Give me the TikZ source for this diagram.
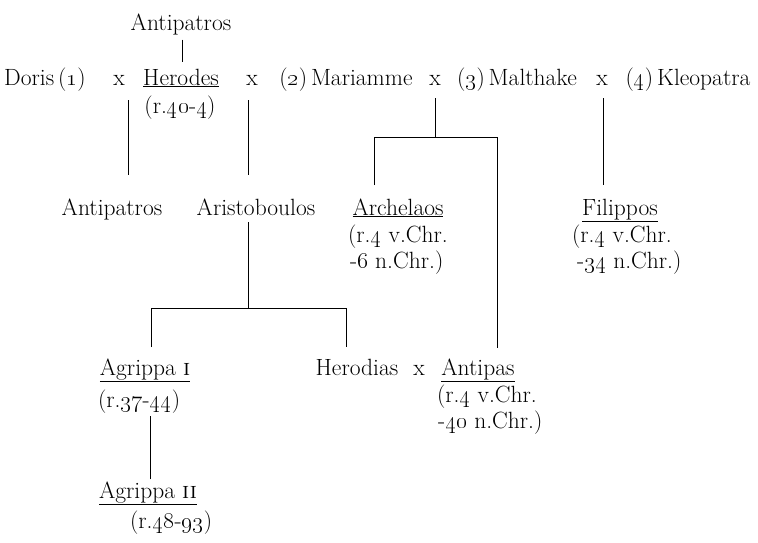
\documentclass[tikz,border=0pt]{standalone}
\usepackage{fix-cm}
\newcommand{\osn}[1]{\oldstylenums{#1}}
\begin{document}
\begin{tikzpicture}[x=1pt,y=-1pt,inner sep=0pt,outer sep=0pt,line width=0.9pt,
person/.style={anchor=base,inner sep=0pt,font=\fontsize{23.5}{28}\selectfont},
reign/.style={person,anchor=base west}]
\useasboundingbox (0,0) rectangle (758,542);
% first generation
\node[person] (antipA) at (181,30) {Antipatros};
% Herodes and his wives
\node[person] (doris) at (45,85) {Doris\,(\osn{1})};
\node[person] (mx1) at (119,85) {x};
\node[person] (herodes) at (181,85) {\underline{Herodes}};
\node[person] (herodesR) at (180,113) {(r.\osn{40}-\osn{4})};
\node[person] (mx2) at (252,85) {x};
\node[person] (mariamme) at (346,85) {(\osn{2})\,Mariamme};
\node[person] (mx3) at (435,85) {x};
\node[person] (malthake) at (517,85) {(\osn{3})\,Malthake};
\node[person] (mx4) at (602,85) {x};
\node[person] (kleopatra) at (688,85) {(\osn{4})\,Kleopatra};
% sons
\node[person] (antipB) at (112,215) {Antipatros};
\node[person] (aristo) at (256,215) {Aristoboulos};
\node[person] (archelaos) at (398,215) {\underline{Archelaos}};
\node[reign] (archelaosR1) at (348,242) {(r.\osn{4} v.Chr.};
\node[reign] (archelaosR2) at (350,268) {-\osn{6} n.Chr.)};
\node[person] (filippos) at (620,215) {\underline{Filippos}};
\node[reign] (filipposR1) at (572,242) {(r.\osn{4} v.Chr.};
\node[reign] (filipposR2) at (577,268) {-\osn{34} n.Chr.)};
% grandchildren
\node[person] (agrippa1) at (145,375) {\underline{Agrippa \textsc{i}}};
\node[reign] (agrippa1R) at (98,407) {(r.\osn{37}-\osn{44})};
\node[person] (herodias) at (357,375) {Herodias};
\node[person] (mx5) at (419,375) {x};
\node[person] (antipas) at (478,375) {\underline{Antipas}};
\node[reign] (antipasR1) at (437,402) {(r.\osn{4} v.Chr.};
\node[reign] (antipasR2) at (438,428) {-\osn{40} n.Chr.)};
\node[person] (agrippa2) at (148,498) {\underline{Agrippa \textsc{ii}}};
\node[reign] (agrippa2R) at (130,528) {(r.\osn{48}-\osn{93})};
% lines of descent
\draw (antipA.south) ++(1,5) -- ++(0,22);
\draw (mx1.south) ++(9,15) -- ++(0,75);
\draw (mx2.south) ++(-4,15) -- ++(0,75);
\draw (aristo.south) ++(-8,7) -- ++(0,86) coordinate (jB);
\draw (jB) ++(-97,39) |- ++(195,-39) -- ++(0,39);
\draw (mx3.south) ++(0,13) -- ++(0,39) coordinate (jC);
\draw (jC) ++(-61,48) |- ++(123,-48) -- ++(0,211);
\draw (mx4.south) ++(1,13) -- ++(0,87);
\draw (agrippa2.north) ++(2,-2) -- ++(0,-63);
\end{tikzpicture}
\end{document}
